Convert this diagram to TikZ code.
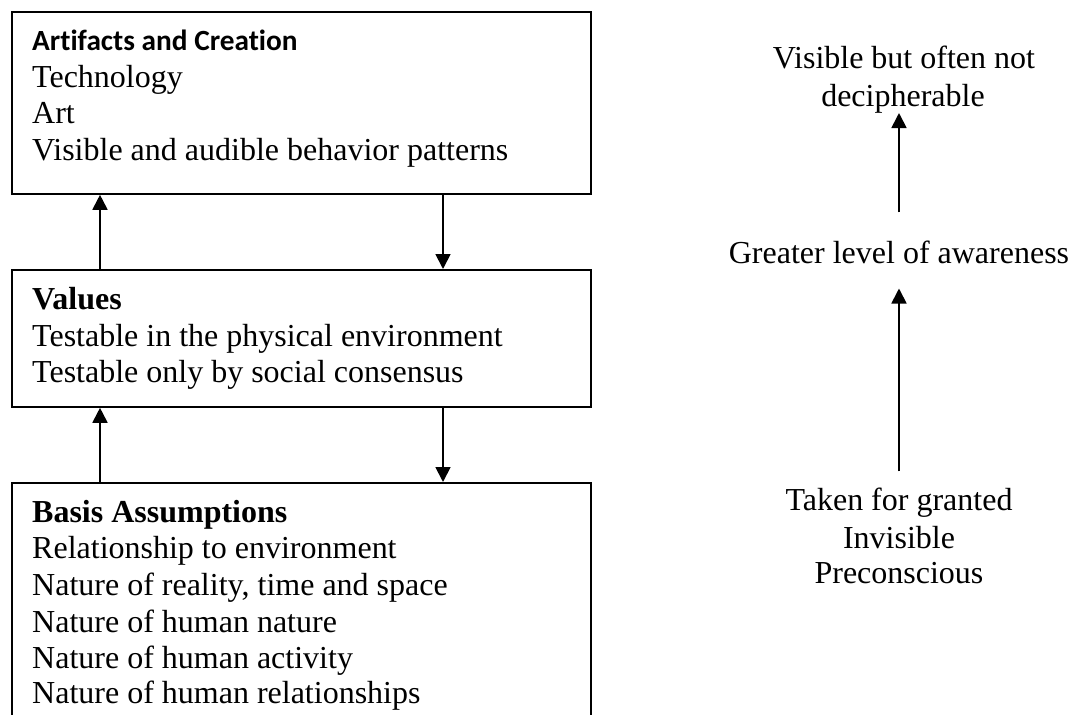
\documentclass[tikz,border=0pt]{standalone}
\usepackage{fontspec}
\setmainfont{Liberation Serif}
\newfontfamily\calibri[Ligatures=NoCommon]{Carlito}
\usetikzlibrary{arrows.meta}
\begin{document}
\begin{tikzpicture}[x=1pt,y=-1pt,
  box/.style={draw,line width=1.8pt,inner sep=0pt,anchor=north west,minimum width=579pt},
  txt/.style={anchor=base west,inner sep=0pt,font=\fontsize{32}{36.5}\selectfont},
  ttl/.style={txt,font=\fontsize{32}{36.5}\selectfont\bfseries},
  cttl/.style={txt,font=\fontsize{29.3}{36.5}\selectfont\calibri\bfseries},
  ctr/.style={anchor=base,inner sep=0pt,font=\fontsize{32}{36.5}\selectfont},
  arr/.style={line width=1.8pt,-{Triangle[width=15pt,length=15pt]}}]
\useasboundingbox (0,0) rectangle (1072,715);
\clip (0,0) rectangle (1072,715);
% boxes
\node[box,minimum height=182pt] (b1) at (11,11) {};
\node[box,minimum height=137pt] (b2) at (11,269) {};
\node[box,minimum height=300pt] (b3) at (11,482) {};
% box 1 text
\node[cttl] (b1t) at (32,50) {Artifacts and Creation};
\node[txt] (b1a) at (32,87) {Technology};
\node[txt] (b1b) at (32,123) {Art};
\node[txt] (b1c) at (32,160) {Visible and audible behavior patterns};
% box 2 text
\node[ttl] (b2t) at (32,309) {Values};
\node[txt] (b2a) at (32,346) {Testable in the physical environment};
\node[txt] (b2b) at (32,382) {Testable only by social consensus};
% box 3 text
\node[ttl] (b3t) at (32,522) {Basis Assumptions};
\node[txt] (b3a) at (32,558) {Relationship to environment};
\node[txt] (b3b) at (32,595) {Nature of reality, time and space};
\node[txt] (b3c) at (32,632) {Nature of human nature};
\node[txt] (b3d) at (32,668) {Nature of human activity};
\node[txt] (b3e) at (32,703) {Nature of human relationships};
% connectors between boxes
\coordinate (L) at (100,0);
\coordinate (R) at (443,0);
\draw[arr] (b2.north -| L) -- (b1.south -| L);
\draw[arr] (b1.south -| R) -- (b2.north -| R);
\draw[arr] (b3.north -| L) -- (b2.south -| L);
\draw[arr] (b2.south -| R) -- (b3.north -| R);
% right column
\node[ctr] (v1) at (904,68) {Visible but often not};
\node[ctr] (v2) at (903,106) {decipherable};
\node[ctr] (g) at (899,263) {Greater level of awareness};
\node[ctr] (t1) at (899,510) {Taken for granted};
\node[ctr] (t2) at (899,548) {Invisible};
\node[ctr] (t3) at (899,583) {Preconscious};
\draw[arr] ([yshift=28pt]g.north) -- (g.north |- v2.south);
\draw[arr] ([yshift=16pt]t1.north -| g.south) -- ([yshift=-25pt]g.south);
\end{tikzpicture}
\end{document}
